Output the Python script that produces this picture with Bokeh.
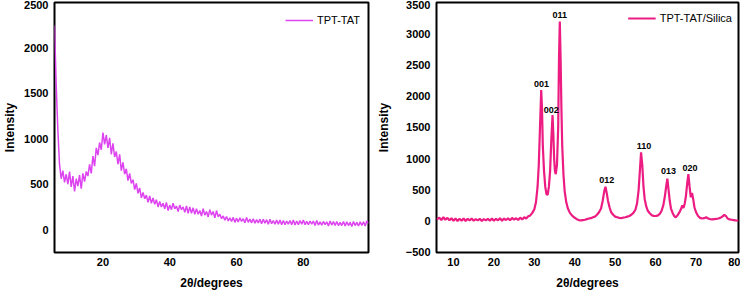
from bokeh.plotting import figure
from bokeh.layouts import row
from bokeh.models import Range1d, FixedTicker, Title
from bokeh.core.properties import value
from bokeh.embed import file_html
from bokeh.resources import INLINE

# ---------------- data: TPT-TAT (2θ every 0.5° from 5.5 to 99.5) ----------------
tat_x = [5.5 + 0.5 * i for i in range(189)]
tat_y = [2250, 1600, 1100, 720, 560, 650, 520, 610, 500, 640,
         470, 590, 420, 560, 480, 600, 450, 620, 530, 640,
         590, 720, 620, 810, 700, 900, 820, 960, 880, 1070,
         940, 1040, 900, 1010, 830, 950, 800, 860, 720, 830,
         650, 740, 610, 670, 540, 620, 510, 550, 440, 510,
         400, 460, 350, 410, 340, 380, 300, 370, 290, 350,
         280, 330, 250, 310, 250, 290, 230, 300, 210, 270,
         220, 290, 230, 260, 200, 270, 220, 250, 190, 260,
         180, 250, 180, 240, 170, 230, 170, 210, 150, 230,
         160, 200, 140, 220, 160, 200, 130, 210, 140, 170,
         120, 150, 105, 145, 95, 130, 90, 135, 80, 125,
         85, 130, 90, 120, 75, 135, 80, 115, 75, 120,
         70, 110, 75, 115, 65, 115, 70, 110, 60, 115,
         65, 100, 60, 105, 60, 105, 55, 100, 55, 95,
         60, 100, 55, 105, 50, 95, 55, 100, 60, 105,
         55, 90, 55, 95, 60, 95, 45, 100, 50, 85,
         50, 90, 55, 85, 40, 95, 50, 90, 45, 90,
         45, 80, 45, 90, 40, 85, 45, 80, 35, 90,
         45, 80, 40, 85, 45, 85, 40, 95, 70]

# ---------------- data: TPT-TAT/Silica ----------------
sil_x = [5.8, 6.5, 7.0, 7.5, 8.0, 8.5, 9.0, 9.5, 10.0, 10.5, 11.0, 11.5, 12.0, 12.5,
         13.0, 13.5, 14.0, 14.5, 15.0, 15.5, 16.0, 16.5, 17.0, 17.5, 18.0, 18.5, 19.0,
         19.5, 20.0, 20.5, 21.0, 21.5, 22.0, 22.5, 23.0, 23.5, 24.0, 24.5, 25.0, 25.5,
         26.0, 26.5, 27.0, 27.5, 28.0, 28.5, 29.0, 29.5, 30.0, 30.4, 30.8, 31.1, 31.4,
         31.7, 31.9, 32.1, 32.4, 32.7, 33.0, 33.3, 33.6, 33.9, 34.2, 34.5, 34.7, 34.9,
         35.1, 35.3, 35.6, 35.9, 36.1, 36.3, 36.5, 36.7, 36.9, 37.2, 37.5, 37.9, 38.3,
         38.8, 39.3, 39.8, 40.5, 41.0, 41.5, 42.0, 42.5, 43.0, 43.5, 44.0, 44.5, 45.0,
         45.5, 46.0, 46.5, 46.9, 47.3, 47.6, 47.9, 48.2, 48.6, 49.0, 49.5, 50.0, 50.5,
         51.0, 51.5, 52.0, 52.5, 53.0, 53.5, 54.0, 54.5, 55.0, 55.4, 55.8, 56.1, 56.4,
         56.7, 57.0, 57.3, 57.7, 58.1, 58.6, 59.1, 59.6, 60.1, 60.6, 61.1, 61.5, 61.9,
         62.3, 62.6, 62.9, 63.2, 63.5, 63.8, 64.2, 64.6, 65.0, 65.4, 65.8, 66.2, 66.6,
         66.9, 67.2, 67.5, 67.8, 68.1, 68.4, 68.7, 69.0, 69.3, 69.6, 70.0, 70.5, 71.0,
         71.5, 72.0, 72.5, 73.0, 73.5, 74.0, 74.5, 75.0, 75.5, 76.0, 76.5, 77.0, 77.4,
         77.8, 78.3, 78.8, 79.3, 79.8, 80.5]
sil_y = [20, 55, 15, 60, 20, 50, 10, 45, 5, 40, 0, 35, 5, 40,
         0, 35, 10, 40, 5, 30, 10, 35, 0, 30, 10, 35, 5,
         40, 5, 35, 10, 45, 5, 40, 15, 45, 10, 50, 20, 45,
         15, 55, 25, 60, 40, 75, 90, 130, 190, 300, 550, 900, 1500,
         2100, 1800, 1200, 800, 550, 430, 420, 550, 800, 1300, 1700, 1400, 1000,
         800, 750, 900, 1500, 2600, 3200, 2600, 1800, 1200, 750, 480, 300, 200,
         130, 90, 60, 30, 15, 10, 15, 20, 30, 40, 45, 60, 70,
         100, 140, 200, 320, 480, 550, 450, 330, 220, 140, 100, 70, 60,
         50, 45, 55, 60, 70, 80, 100, 130, 180, 280, 500, 800, 1100,
         900, 550, 350, 230, 160, 120, 90, 80, 80, 90, 120, 170, 250,
         400, 550, 680, 500, 320, 200, 130, 80, 60, 90, 130, 180, 250,
         210, 280, 400, 600, 750, 550, 380, 450, 350, 220, 140, 80, 50,
         40, 45, 60, 40, 30, 25, 30, 35, 40, 50, 70, 100, 80,
         40, 25, 20, 15, 10, 5]

peak_labels = ["001", "002", "011", "012", "110", "013", "020"]
peak_x = [31.8, 34.2, 36.3, 47.9, 57.1, 63.2, 68.5]
peak_y = [2150, 1730, 3250, 610, 1150, 760, 800]

left_xticks = [20, 40, 60, 80]
left_yticks = [0, 500, 1000, 1500, 2000, 2500]
right_xticks = [10, 20, 30, 40, 50, 60, 70, 80]
right_yticks = [-500, 0, 500, 1000, 1500, 2000, 2500, 3000, 3500]

X_TITLE = "2θ/degrees"
Y_TITLE = "Intensity"
FONT = "Liberation Sans"


def style(p, xticks, yticks, ystandoff):
    p.xgrid.visible = False
    p.ygrid.visible = False
    p.outline_line_color = "black"
    p.outline_line_width = 2
    p.outline_line_alpha = 1
    p.xaxis.ticker = FixedTicker(ticks=xticks)
    p.yaxis.ticker = FixedTicker(ticks=yticks)
    for ax in (p.xaxis[0], p.yaxis[0]):
        ax.axis_line_color = None
        ax.major_tick_line_color = None
        ax.minor_tick_line_color = None
        ax.major_tick_out = 0
        ax.major_tick_in = 0
        ax.minor_tick_out = 0
        ax.minor_tick_in = 0
        ax.major_label_text_font = FONT
        ax.major_label_text_font_style = "bold"
        ax.major_label_text_font_size = "11px"
        ax.major_label_text_color = "black"
        ax.axis_label_text_font = FONT
        ax.axis_label_text_font_style = "bold"
        ax.axis_label_text_font_size = "12px"
        ax.axis_label_text_color = "black"
        ax.major_label_standoff = 6
    p.xaxis.major_label_standoff = 5
    p.yaxis.axis_label_standoff = ystandoff
    p.yaxis.axis_label = Y_TITLE
    # x title as a centred title under the axis
    p.add_layout(Title(text=X_TITLE, align="center", text_font=FONT,
                       text_font_style="bold", text_font_size="12px",
                       text_color="black", standoff=10, offset=0),
                 "below")


def style_legend(p, margin):
    lg = p.legend[0]
    lg.location = "top_right"
    lg.border_line_color = None
    lg.background_fill_alpha = 0
    lg.label_text_font = FONT
    lg.label_text_font_size = "11px"
    lg.label_text_color = "black"
    lg.glyph_width = 28
    lg.label_standoff = 4
    lg.margin = margin
    lg.padding = 4


# ---------------- left panel ----------------
p1 = figure(width=370, height=294, output_backend="svg", toolbar_location=None,
            x_range=Range1d(5.5, 99.5), y_range=Range1d(-252, 2502),
            min_border_left=45, min_border_right=2, min_border_top=2,
            min_border_bottom=0)
p1.line(tat_x, tat_y, color="#DD44F0", line_width=1.5, legend_label="TPT-TAT")
style(p1, left_xticks, left_yticks, 4)
style_legend(p1, 8)

# ---------------- right panel ----------------
p2 = figure(width=370, height=294, output_backend="svg", toolbar_location=None,
            x_range=Range1d(5.8, 80.5), y_range=Range1d(-505, 3503),
            min_border_left=66, min_border_right=2, min_border_top=2,
            min_border_bottom=0)
p2.line(sil_x, sil_y, color="#EC1C82", line_width=2.2, legend_label="TPT-TAT/Silica")
p2.text(x=peak_x, y=peak_y, text=peak_labels, text_align="center",
        text_baseline="bottom", text_font=value(FONT), text_font_style="bold",
        text_font_size="9px", text_color="black")
style(p2, right_xticks, right_yticks, 12)
style_legend(p2, 6)

layout = row(p1, p2)
open("out.html", "w").write(file_html(layout, INLINE))
